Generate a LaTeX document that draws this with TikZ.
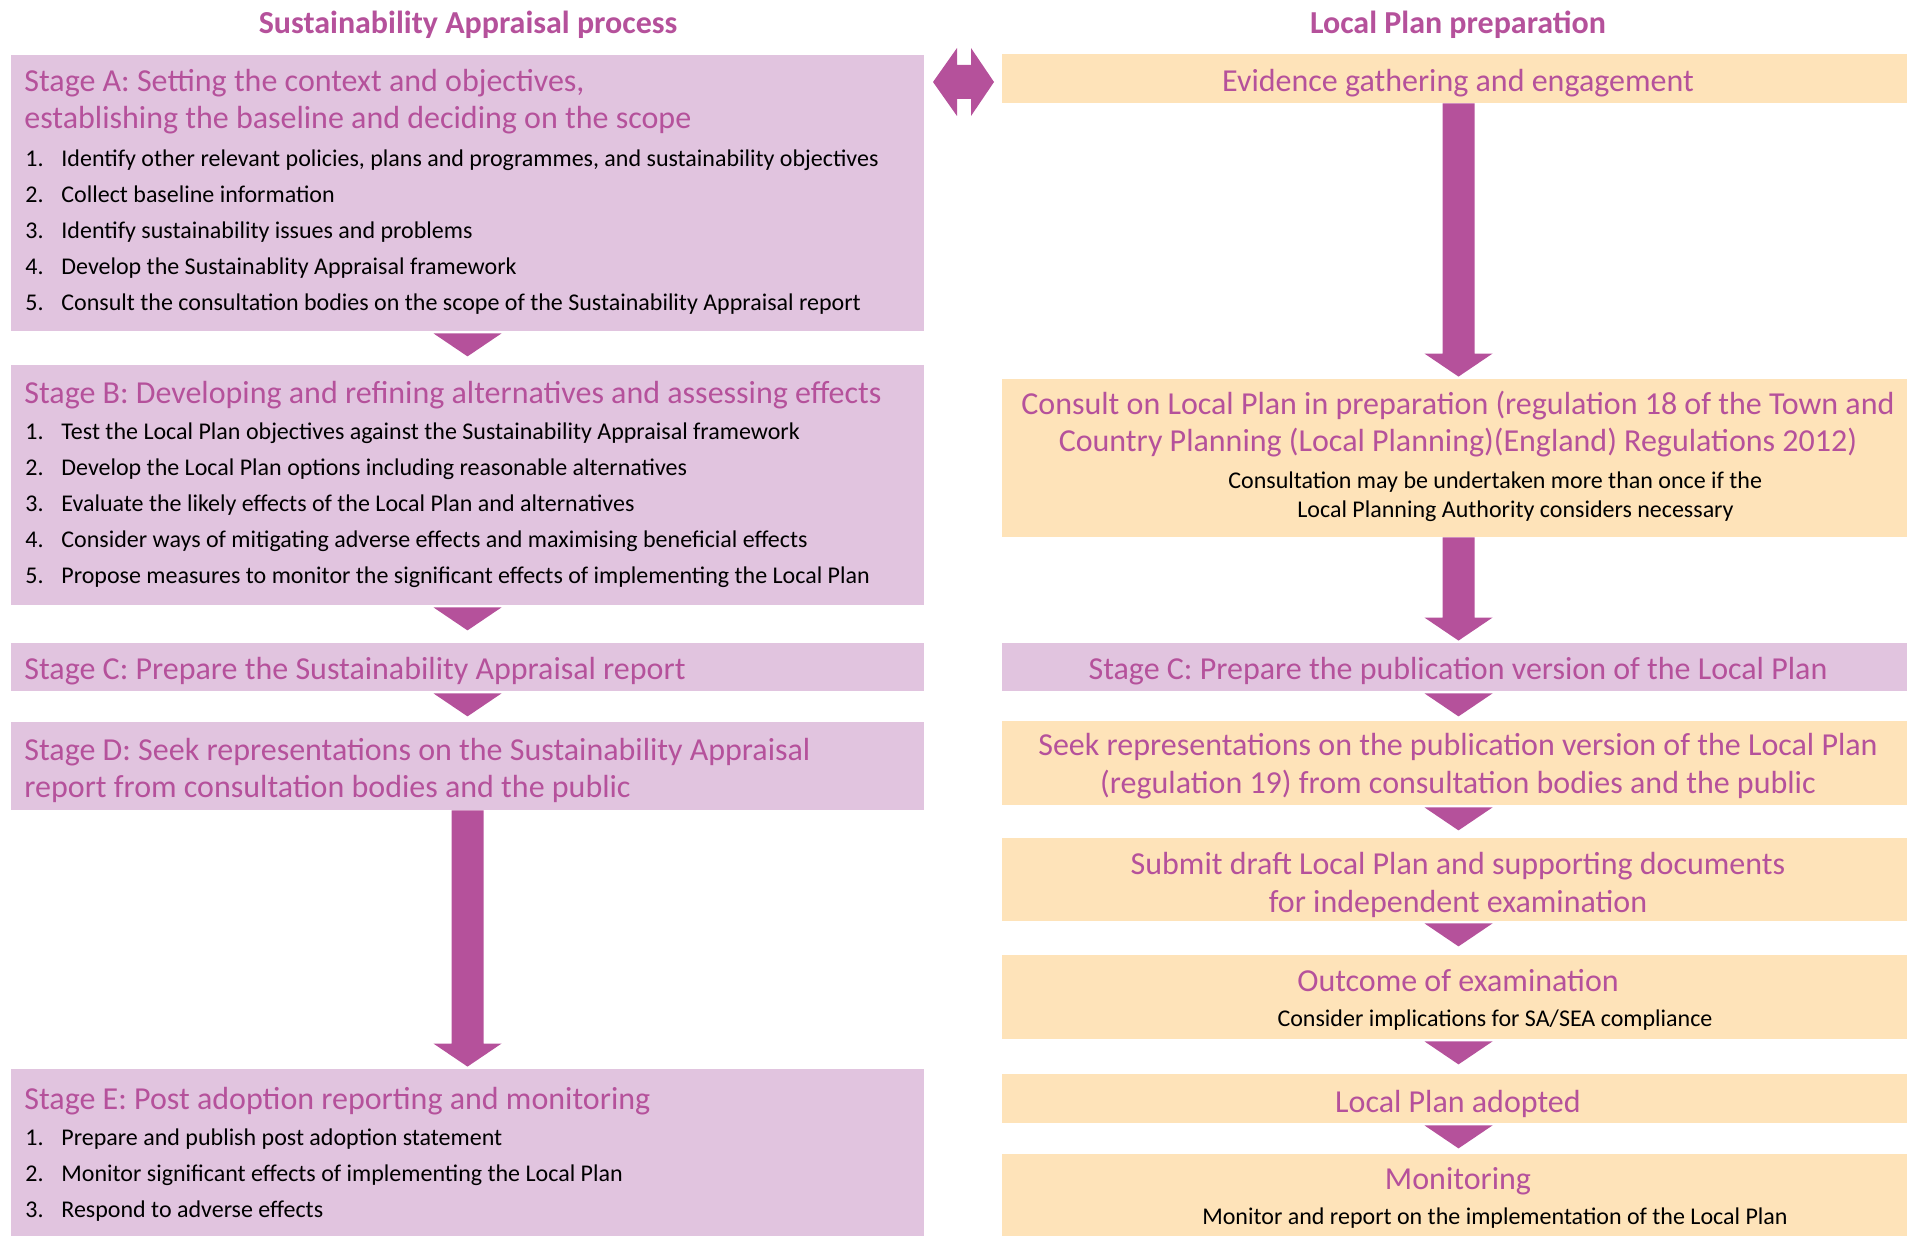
\documentclass[tikz,border=0pt]{standalone}
\usepackage{fontspec}
\setmainfont{Carlito}
\usepackage{xcolor}
\usetikzlibrary{calc,fit}
\definecolor{plum}{HTML}{B5519B}
\definecolor{lilac}{HTML}{E1C4DF}
\definecolor{peach}{HTML}{FEE3B9}
% small triangle and long block arrow between two boxes
\newcommand{\downtri}[2]{\fill[plum] ($(#1.south)+(-34,2)$) -- ($(#1.south)+(34,2)$) -- ($(#1.south)+(0,25)$) -- cycle;}
\newcommand{\blockarrow}[2]{\fill[plum] ($(#1.south)+(-16,0)$) -- ($(#2.north)+(-16,-25)$) -- ($(#2.north)+(-34,-25)$) -- ($(#2.north)+(0,-2)$) -- ($(#2.north)+(34,-25)$) -- ($(#2.north)+(16,-25)$) -- ($(#1.south)+(16,0)$) -- cycle;}
\begin{document}
\begin{tikzpicture}[x=0.5pt,y=-0.5pt,
    lilacbox/.style={fill=lilac,inner sep=0pt},
    peachbox/.style={fill=peach,inner sep=0pt},
    colhead/.style={text=plum,font=\bfseries\fontsize{16}{19}\selectfont,anchor=base,inner sep=0pt},
    stagetitle/.style={text=plum,font=\fontsize{16}{19}\selectfont,anchor=base west,inner sep=0pt},
    plantitle/.style={text=plum,font=\fontsize{16}{19}\selectfont,anchor=base,inner sep=0pt},
    listitem/.style={font=\fontsize{12}{14}\selectfont,anchor=base west,inner sep=0pt},
    smallnote/.style={font=\fontsize{12}{14}\selectfont,anchor=base,inner sep=0pt}]
    \clip (0,0) rectangle (1907,1236);
    \node[colhead] (sahead) at (468,34) {Sustainability Appraisal process};
    \node[colhead] (lphead) at (1458,34) {Local Plan preparation};

    % left column
    \node[lilacbox,fit={(11,55)(924,331)}] (boxA) {};
    \node[lilacbox,fit={(11,365)(924,605)}] (boxB) {};
    \node[lilacbox,fit={(11,643)(924,691)}] (boxC) {};
    \node[lilacbox,fit={(11,722)(924,810)}] (boxD) {};
    \node[lilacbox,fit={(11,1069)(924,1240)}] (boxE) {};
    \downtri{boxA}{boxB}
    \downtri{boxB}{boxC}
    \downtri{boxC}{boxD}
    \blockarrow{boxD}{boxE}

    \node[stagetitle] (titA1) at (24,92) {Stage A: Setting the context and objectives,};
    \node[stagetitle] (titA2) at (24,129) {establishing the baseline and deciding on the scope};
    \foreach \i/\y/\t in {1/167/{Identify other relevant policies, plans and programmes, and sustainability objectives},
        2/202/{Collect baseline information},
        3/238/{Identify sustainability issues and problems},
        4/274/{Develop the Sustainablity Appraisal framework},
        5/310/{Consult the consultation bodies on the scope of the Sustainability Appraisal report}}{
      \node[listitem] (numA\i) at (25,\y) {\i.};
      \node[listitem] (itemA\i) at (61,\y) {\t};
    }
    \node[stagetitle] (titB) at (24,403) {Stage B: Developing and refining alternatives and assessing effects};
    \foreach \i/\y/\t in {1/439/{Test the Local Plan objectives against the Sustainability Appraisal framework},
        2/475/{Develop the Local Plan options including reasonable alternatives},
        3/511/{Evaluate the likely effects of the Local Plan and alternatives},
        4/547/{Consider ways of mitigating adverse effects and maximising beneficial effects},
        5/583/{Propose measures to monitor the significant effects of implementing the Local Plan}}{
      \node[listitem] (numB\i) at (25,\y) {\i.};
      \node[listitem] (itemB\i) at (61,\y) {\t};
    }
    \node[stagetitle] (titC) at (24,679) {Stage C: Prepare the Sustainability Appraisal report};
    \node[stagetitle] (titD1) at (24,760) {Stage D: Seek representations on the Sustainability Appraisal};
    \node[stagetitle] (titD2) at (24,797) {report from consultation bodies and the public};
    \node[stagetitle] (titE) at (24,1109) {Stage E: Post adoption reporting and monitoring};
    \foreach \i/\y/\t in {1/1145/{Prepare and publish post adoption statement},
        2/1181/{Monitor significant effects of implementing the Local Plan},
        3/1217/{Respond to adverse effects}}{
      \node[listitem] (numE\i) at (25,\y) {\i.};
      \node[listitem] (itemE\i) at (61,\y) {\t};
    }

    % right column
    \node[peachbox,fit={(1002,54)(1915,103)}] (evid) {};
    \node[peachbox,fit={(1002,379)(1915,537)}] (consult) {};
    \node[lilacbox,fit={(1002,643)(1915,691)}] (pubC) {};
    \node[peachbox,fit={(1002,721)(1915,805)}] (seek) {};
    \node[peachbox,fit={(1002,838)(1915,921)}] (submit) {};
    \node[peachbox,fit={(1002,955)(1915,1039)}] (outcome) {};
    \node[peachbox,fit={(1002,1074)(1915,1123)}] (adopted) {};
    \node[peachbox,fit={(1002,1154)(1915,1240)}] (monitor) {};
    \blockarrow{evid}{consult}
    \blockarrow{consult}{pubC}
    \downtri{pubC}{seek}
    \downtri{seek}{submit}
    \downtri{submit}{outcome}
    \downtri{outcome}{adopted}
    \downtri{adopted}{monitor}

    % two way link between the columns
    \fill[plum] (933,82) -- (957,48) -- (957,65) -- (971,65) -- (971,48) -- (994,82)
        -- (971,116) -- (971,99) -- (957,99) -- (957,116) -- cycle;

    \node[plantitle] (txtEvid) at (1458,92) {Evidence gathering and engagement};
    \node[plantitle] (txtCons1) at (1458,414) {Consult on Local Plan in preparation (regulation 18 of the Town and};
    \node[plantitle] (txtCons2) at (1458,451) {Country Planning (Local Planning)(England) Regulations 2012)};
    \node[listitem] (noteCons1) at (1228,488) {Consultation may be undertaken more than once if the};
    \node[listitem] (noteCons2) at (1297,517) {Local Planning Authority considers necessary};
    \node[plantitle] (txtPubC) at (1458,679) {Stage C: Prepare the publication version of the Local Plan};
    \node[plantitle] (txtSeek1) at (1458,755) {Seek representations on the publication version of the Local Plan};
    \node[plantitle] (txtSeek2) at (1458,793) {(regulation 19) from consultation bodies and the public};
    \node[plantitle] (txtSub1) at (1458,874) {Submit draft Local Plan and supporting documents};
    \node[plantitle] (txtSub2) at (1458,912) {for independent examination};
    \node[plantitle] (txtOut) at (1458,991) {Outcome of examination};
    \node[smallnote] (noteOut) at (1495,1026) {Consider implications for SA/SEA compliance};
    \node[plantitle] (txtAdopt) at (1458,1112) {Local Plan adopted};
    \node[plantitle] (txtMon) at (1458,1189) {Monitoring};
    \node[smallnote] (noteMon) at (1495,1224) {Monitor and report on the implementation of the Local Plan};
\end{tikzpicture}
\end{document}
